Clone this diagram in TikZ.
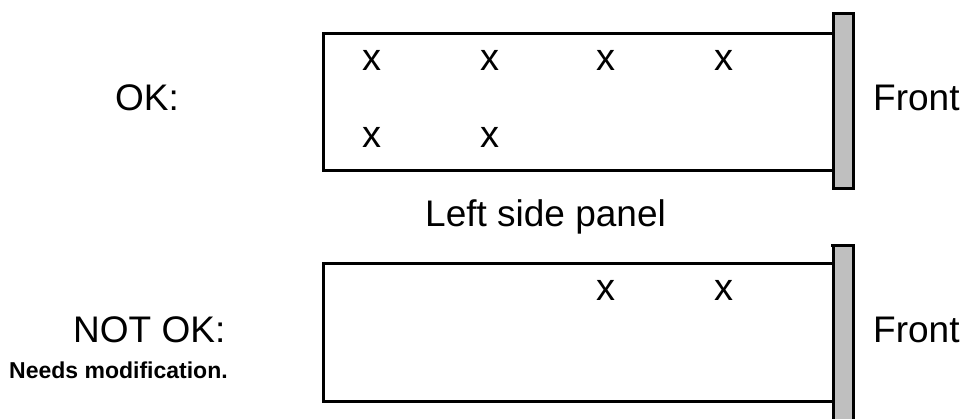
\documentclass[tikz,border=0pt]{standalone}
\usepackage{fontspec}
\setmainfont{Liberation Sans}
\begin{document}
\begin{tikzpicture}[x=1pt,y=-1pt,
  panel/.style={draw=black,line width=3pt,fill=white},
  frontbar/.style={draw=black,line width=3pt,fill=black!25},
  lbl/.style={inner sep=0pt,anchor=base west,font=\fontsize{37}{44}\selectfont},
  small/.style={inner sep=0pt,anchor=base west,font=\fontsize{23}{27}\selectfont\bfseries},
  hole/.style={inner sep=0pt,font=\fontsize{38}{44}\selectfont}]
\useasboundingbox (0,0) rectangle (961,418);
% top panel
\draw[panel] (323,33) rectangle (833,170);
\draw[frontbar] (833,13) rectangle (853,188);
% bottom panel
\draw[panel] (323,263) rectangle (833,401);
\draw[frontbar] (833,245) rectangle (853,430);
\draw[line width=3pt] (831,245) -- (855,245);
% holes
\node[hole] (h1) at (372,60) {x};
\node[hole] (h2) at (490,60) {x};
\node[hole] (h3) at (606,60) {x};
\node[hole] (h4) at (724,60) {x};
\node[hole] (h5) at (372,137) {x};
\node[hole] (h6) at (490,137) {x};
\node[hole] (h7) at (606,290) {x};
\node[hole] (h8) at (724,290) {x};
% labels
\node[lbl] (ok) at (115,110) {OK:};
\node[lbl] (front1) at (873,110) {Front};
\node[lbl] (lsp) at (425,226) {Left side panel};
\node[lbl] (notok) at (73,342) {NOT OK:};
\node[lbl] (front2) at (873,342) {Front};
\node[small] (needs) at (9,378) {Needs modification.};
\end{tikzpicture}
\end{document}
